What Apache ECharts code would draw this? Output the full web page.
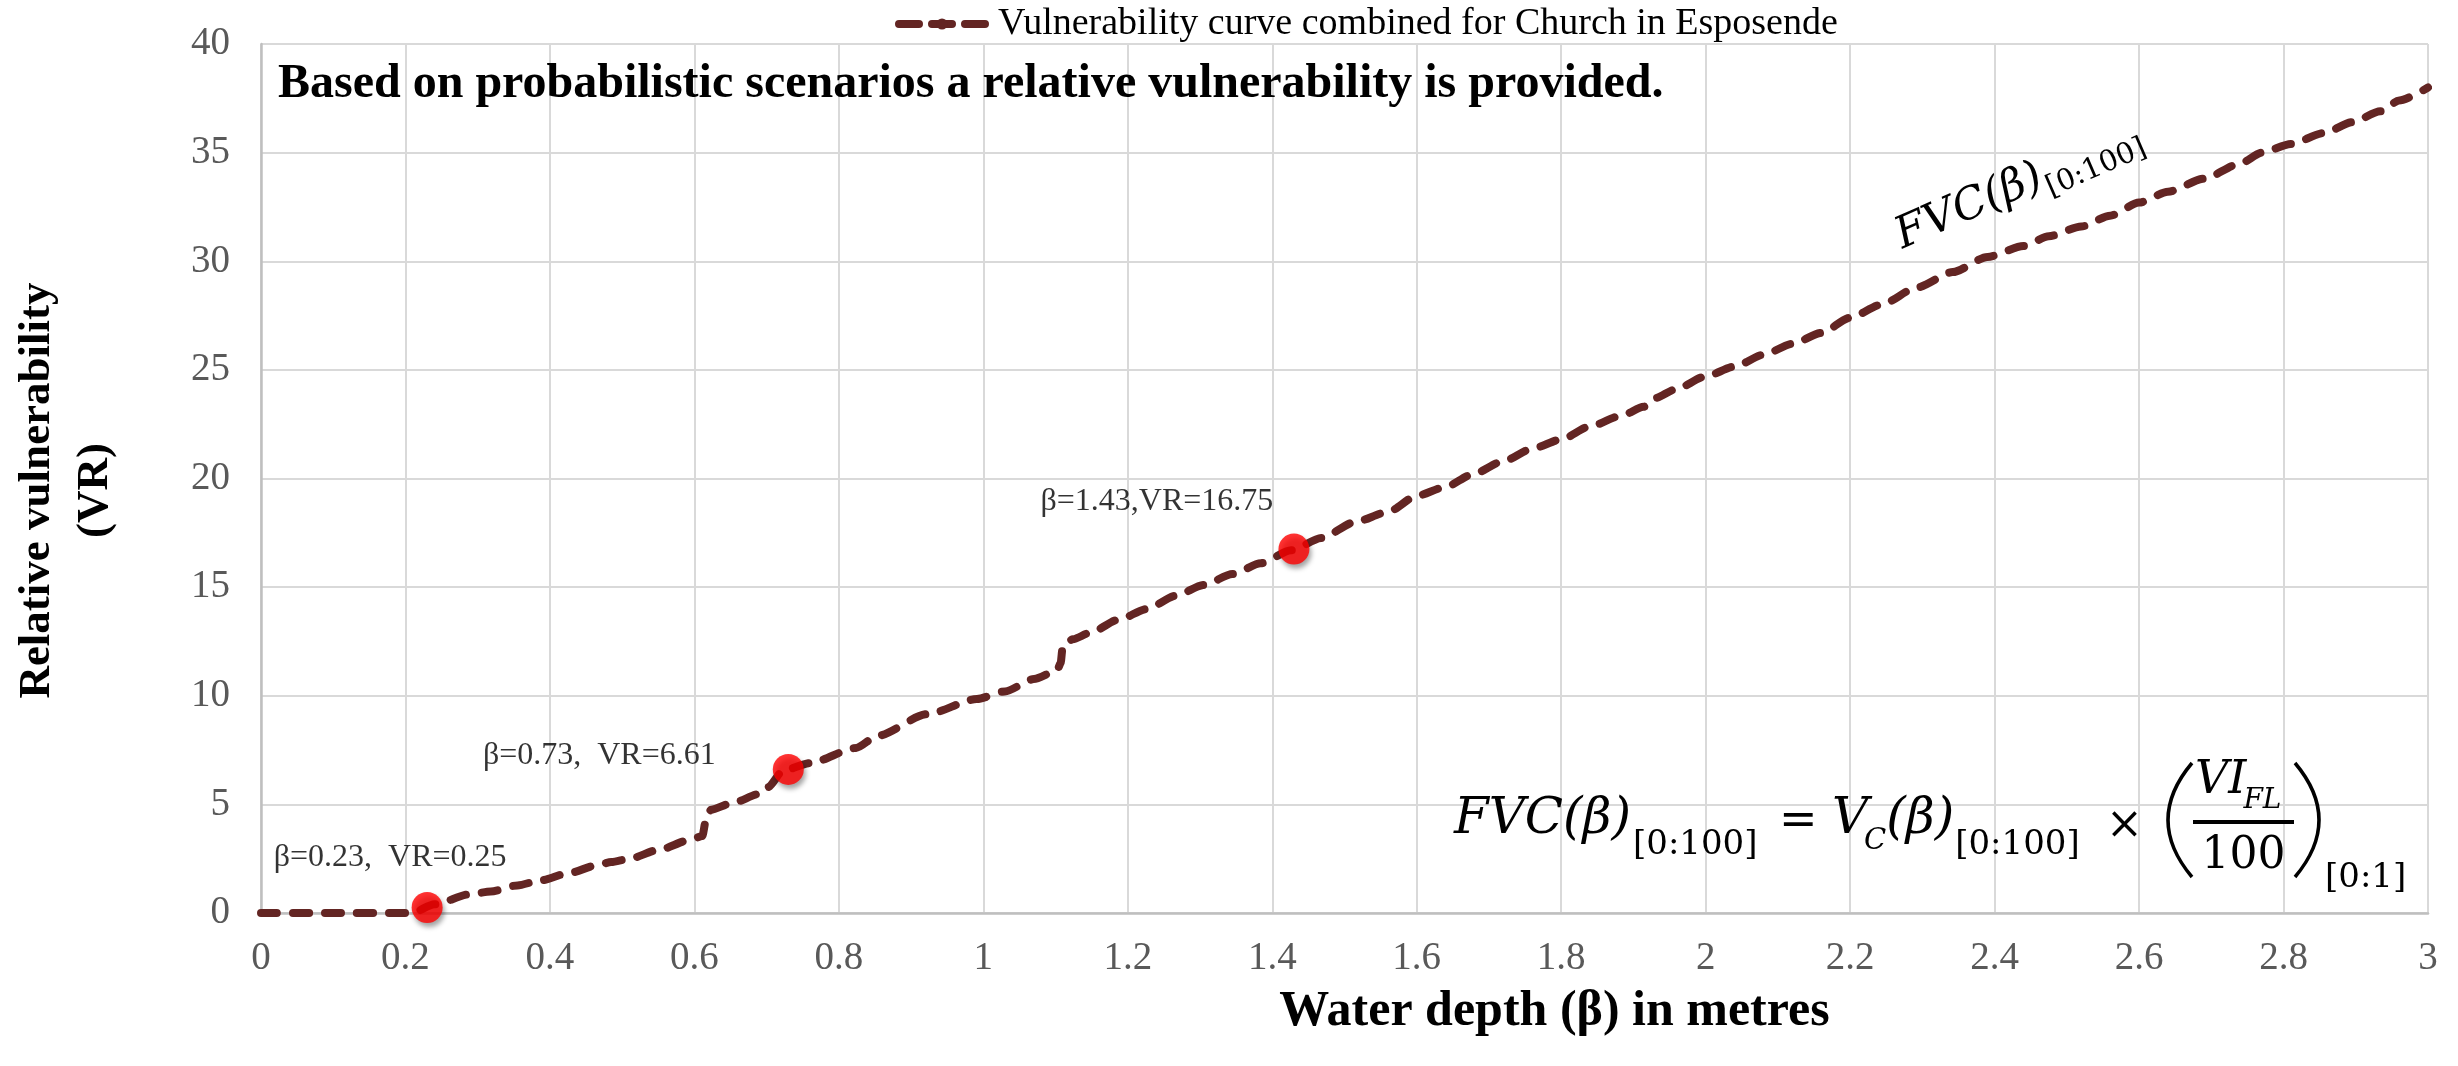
<!DOCTYPE html>
<html>
<head>
<meta charset="utf-8">
<script src="https://cdn.jsdelivr.net/npm/echarts@6/dist/echarts.min.js"></script>
<style>
  html, body { margin: 0; padding: 0; background: #ffffff; }
  #chart { width: 2458px; height: 1066px; }
</style>
</head>
<body>
<div id="chart"></div>
<script>
// Water depth (m) along the combined vulnerability curve
const depth = [
  0, 0.1, 0.2, 0.21, 0.24, 0.29, 0.318, 0.355, 0.387, 0.426, 0.466, 0.485, 0.51, 0.55,
  0.594, 0.611, 0.616, 0.623, 0.652, 0.692, 0.702, 0.723, 0.76, 0.824, 0.853, 0.922,
  0.991, 1.03, 1.07, 1.102, 1.107, 1.11, 1.124, 1.148, 1.187, 1.227, 1.266, 1.305,
  1.345, 1.384, 1.426, 1.468, 1.515, 1.56, 1.6, 1.639, 1.678, 1.718, 1.762, 1.8, 1.84,
  1.884, 1.914, 1.93, 1.958, 2.0, 2.04, 2.08, 2.12, 2.16, 2.2, 2.243, 2.293, 2.342,
  2.39, 2.44, 2.475, 2.52, 2.56, 2.6, 2.64, 2.69, 2.74, 2.77, 2.81, 2.856, 2.895,
  2.934, 2.96, 3.0
];
// Relative vulnerability (VR) at each depth
const vulnerability = [
  0, 0, 0, 0.02, 0.4, 0.87, 0.99, 1.27, 1.5, 1.84, 2.2, 2.35, 2.5, 2.9,
  3.36, 3.54, 4.29, 4.75, 5.06, 5.5, 5.8, 6.56, 6.9, 7.6, 8.15, 9.15,
  9.85, 10.2, 10.77, 11.15, 11.5, 12.3, 12.6, 12.9, 13.5, 14.0, 14.6, 15.1,
  15.6, 16.1, 16.7, 17.26, 18.0, 18.46, 19.2, 19.6, 20.2, 20.77, 21.4, 21.8, 22.4,
  22.9, 23.3, 23.7, 24.1, 24.7, 25.15, 25.7, 26.2, 26.7, 27.4, 28.0, 28.8, 29.5,
  30.2, 30.7, 31.15, 31.6, 32.1, 32.7, 33.2, 33.8, 34.5, 35.0, 35.4, 35.9, 36.4,
  36.9, 37.4, 38.0
];
// Highlighted scenarios
const scenarioDepth = [0.23, 0.73, 1.43];
const scenarioVR = [0.25, 6.61, 16.75];
const scenarioSeparator = ['  ', '  ', ''];

const seriesName = 'Vulnerability curve combined for Church in Esposende';
const serif = '"Liberation Serif", "Times New Roman", serif';
const mathFont = '"DejaVu Serif", "Liberation Serif", serif';
const curveColor = '#632523';

const curveData = depth.map((d, i) => [d, vulnerability[i]]);

// label placement next to each red marker
const scenarioLabelOffset = [[-37, -50], [-189, -14], [-137, -48]];
const scenarioData = scenarioDepth.map((d, i) => ({
  value: [d, scenarioVR[i]],
  label: { offset: scenarioLabelOffset[i] },
  sep: scenarioSeparator[i]
}));

// ---- text measuring for the hand-set formula ----
const measureCtx = document.createElement('canvas').getContext('2d');
function textWidth(text, size, italic) {
  measureCtx.font = (italic ? 'italic ' : '') + size + 'px ' + mathFont;
  return measureCtx.measureText(text).width;
}
function mathText(text, x, y, size, italic, extra) {
  return {
    type: 'text', x: x, y: y, z: 20,
    style: Object.assign({
      text: text, fontFamily: mathFont, fontStyle: italic ? 'italic' : 'normal',
      fontSize: size, fill: '#000', align: 'left', verticalAlign: 'middle'
    }, extra || {})
  };
}

// Formula pieces: each starts at its anchor x, or just after the previous piece
function layoutRun(pieces, baseY) {
  const out = [];
  let end = -Infinity;
  pieces.forEach(p => {
    const x = Math.max(p.x, end + (p.minGap || 0));
    out.push(mathText(p.t, x, baseY + (p.dy || 0), p.size, p.it));
    end = x + textWidth(p.t, p.size, p.it);
  });
  return { elements: out, end: end };
}

// FVC(β)[0:100] = V_C(β)[0:100] ×
const formulaY = 820;
const leftRun = layoutRun([
  { t: 'FVC(β)', x: 1454, size: 50, it: true },
  { t: '[0:100]', x: 1633, size: 34, dy: 25, minGap: 1 },
  { t: '=', x: 1779, size: 46, dy: 2, minGap: 14 },
  { t: 'V', x: 1832, size: 50, it: true, minGap: 12 },
  { t: 'C', x: 1861, size: 29, it: true, dy: 21, minGap: -4 },
  { t: '(β)', x: 1882, size: 50, it: true, minGap: 0 },
  { t: '[0:100]', x: 1948, size: 34, dy: 25, minGap: 1 },
  { t: '×', x: 2106, size: 44, dy: 7, minGap: 12 }
], formulaY);

// ( VI_FL / 100 )[0:1]
const parenL = Math.max(2166, leftRun.end + 16);
const fracL = parenL + 27;
const viW = textWidth('VI', 46, true);
const fracW = 101;
const fracR = fracL + fracW;
const parenR = fracR + 1;

const formulaElements = leftRun.elements.concat([
  {
    type: 'bezierCurve', z: 20,
    shape: { x1: parenL + 26, y1: 763, x2: parenL + 26, y2: 877, cpx1: parenL - 22, cpy1: 820 },
    style: { stroke: '#000', lineWidth: 3.5, fill: null }
  },
  mathText('VI', fracL + 2, 781, 46, true),
  mathText('FL', fracL + viW - 1, 801, 28, true),
  {
    type: 'line', z: 20,
    shape: { x1: fracL, y1: 822, x2: fracR, y2: 822 },
    style: { stroke: '#000', lineWidth: 4 }
  },
  mathText('100', (fracL + fracR) / 2, 857, 44, false, { align: 'center' }),
  {
    type: 'bezierCurve', z: 20,
    shape: { x1: parenR, y1: 763, x2: parenR, y2: 877, cpx1: parenR + 48, cpy1: 820 },
    style: { stroke: '#000', lineWidth: 3.5, fill: null }
  },
  mathText('[0:1]', parenR + 30, 878, 34, false)
]);

// curve label written along the line
const curveLabelMainW = textWidth('FVC(β)', 44, true);
const curveLabel = {
  type: 'group', x: 1904, y: 252, rotation: 0.41, z: 20,
  children: [
    mathText('FVC(β)', 0, -15, 44, true),
    mathText('[0:100]', curveLabelMainW + 1, 0, 29, false)
  ]
};

const chart = echarts.init(document.getElementById('chart'), null, { renderer: 'canvas' });

const option = {
  animation: false,
  backgroundColor: '#ffffff',
  grid: { left: 255, right: 30, top: 44, bottom: 153, containLabel: false },
  legend: {
    data: [seriesName],
    left: 890, top: 0,
    itemWidth: 86, itemHeight: 14, itemGap: 10,
    textStyle: { fontFamily: serif, fontSize: 38, color: '#000', padding: [0, 0, 0, 8] },
    lineStyle: { type: [20, 13], width: 8, cap: 'round', color: curveColor }
  },
  xAxis: {
    type: 'value', min: 0, max: 3, interval: 0.2,
    name: 'Water depth (β) in metres',
    nameLocation: 'middle', nameGap: 74,
    nameTextStyle: {
      fontFamily: serif, fontSize: 50, fontWeight: 'bold', color: '#000',
      padding: [0, 0, 0, 420]
    },
    axisLine: { show: true, lineStyle: { color: '#BFBFBF', width: 2.5 } },
    axisTick: { show: false },
    axisLabel: {
      margin: 26, fontFamily: serif, fontSize: 39, color: '#595959',
      formatter: v => String(Math.round(v * 10) / 10)
    },
    splitLine: { show: true, lineStyle: { color: '#D9D9D9', width: 2 } }
  },
  yAxis: {
    type: 'value', min: 0, max: 40, interval: 5,
    name: 'Relative vulnerability\n(VR)',
    nameLocation: 'middle', nameRotate: 90, nameGap: 137,
    nameTextStyle: {
      fontFamily: serif, fontSize: 45, fontWeight: 'bold', color: '#000', lineHeight: 58,
      padding: [0, 24, 0, 0]
    },
    axisLine: { show: true, lineStyle: { color: '#BFBFBF', width: 2.5 } },
    axisTick: { show: false },
    axisLabel: { margin: 31, fontFamily: serif, fontSize: 39, color: '#595959' },
    splitLine: { show: true, lineStyle: { color: '#D9D9D9', width: 2 } }
  },
  series: [
    {
      name: seriesName,
      type: 'line',
      data: curveData,
      symbol: 'none',
      smooth: 0.25,
      smoothMonotone: 'x',
      z: 3,
      lineStyle: { color: curveColor, width: 8, type: [16, 16], cap: 'round', join: 'round' },
      itemStyle: { color: curveColor }
    },
    {
      name: 'scenarios',
      type: 'scatter',
      data: scenarioData,
      symbol: 'circle',
      symbolSize: 31,
      z: 5,
      itemStyle: {
        color: '#FF0000',
        shadowBlur: 5, shadowColor: 'rgba(0,0,0,0.45)', shadowOffsetX: 2, shadowOffsetY: 4
      },
      label: {
        show: true, position: 'inside',
        fontFamily: serif, fontSize: 32, color: '#000',
        formatter: p => 'β=' + p.value[0] + ',' + p.data.sep + 'VR=' + p.value[1]
      }
    }
  ],
  graphic: [
    {
      type: 'text', left: 278, top: 61, z: 20,
      style: {
        text: 'Based on probabilistic scenarios a relative vulnerability is provided.',
        fontFamily: serif, fontSize: 48, fontWeight: 'bold', fill: '#000'
      }
    },
    curveLabel
  ].concat(formulaElements)
};

chart.setOption(option);
</script>
</body>
</html>
